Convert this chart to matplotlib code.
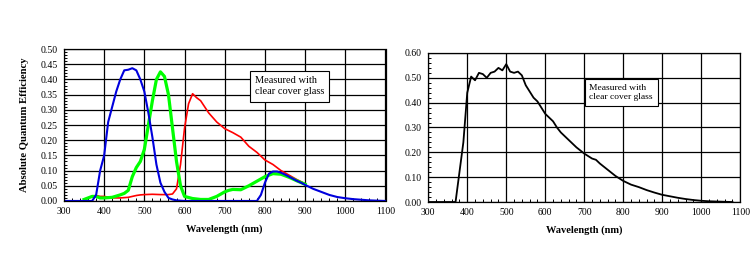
import matplotlib.pyplot as plt
from matplotlib.ticker import MultipleLocator

plt.rcParams['font.family'] = ['Liberation Serif', 'DejaVu Serif']

# colour sensor (left)
red_wl = [350, 370, 380, 390, 400, 420, 440, 460, 480, 490, 500, 520, 540, 560, 570, 580,
          590, 600, 610, 620, 630, 640, 650, 660, 680, 700, 720, 740, 760, 780, 800, 820,
          840, 860, 880, 900]
red_qe = [0.005, 0.015, 0.018, 0.015, 0.015, 0.010, 0.010, 0.012, 0.018, 0.020, 0.021, 0.022,
          0.021, 0.021, 0.023, 0.040, 0.120, 0.240, 0.320, 0.353, 0.340, 0.330, 0.310, 0.290,
          0.260, 0.238, 0.225, 0.210, 0.180, 0.160, 0.135, 0.120, 0.100, 0.085, 0.070, 0.057]

green_wl = [350, 360, 370, 380, 390, 400, 420, 440, 450, 460, 470, 480, 490, 500, 510, 520,
            530, 540, 550, 560, 570, 580, 590, 600, 620, 640, 660, 680, 700, 710, 720, 740,
            760, 780, 800, 820, 840, 860, 880, 900]
green_qe = [0.005, 0.010, 0.015, 0.015, 0.010, 0.010, 0.012, 0.020, 0.025, 0.035, 0.080, 0.110,
            0.130, 0.170, 0.250, 0.330, 0.400, 0.425, 0.410, 0.350, 0.240, 0.130, 0.050, 0.015,
            0.008, 0.005, 0.005, 0.015, 0.030, 0.035, 0.038, 0.037, 0.050, 0.065, 0.080, 0.090,
            0.088, 0.078, 0.066, 0.055]

blue_wl = [300, 370, 380, 390, 400, 410, 420, 430, 440, 450, 460, 470, 480, 490, 500, 510,
           520, 530, 540, 550, 560, 570, 580, 600, 780, 790, 800, 810, 820, 830, 840, 850,
           860, 870, 880, 890, 900, 920, 940, 960, 980, 1000, 1020, 1040, 1060, 1080, 1100]
blue_qe = [0.0, 0.0, 0.020, 0.100, 0.150, 0.260, 0.310, 0.360, 0.400, 0.430, 0.432, 0.437,
           0.430, 0.400, 0.360, 0.290, 0.210, 0.120, 0.060, 0.030, 0.010, 0.005, 0.002, 0.0,
           0.0, 0.020, 0.060, 0.090, 0.097, 0.097, 0.093, 0.087, 0.080, 0.073, 0.066, 0.060,
           0.053, 0.040, 0.030, 0.020, 0.013, 0.009, 0.006, 0.004, 0.002, 0.001, 0.0]

# monochrome sensor (right)
mono_wl = [300, 370, 380, 390, 400, 410, 420, 430, 440, 450, 460, 470, 480, 490, 500, 510,
           520, 530, 540, 550, 560, 570, 580, 590, 600, 610, 620, 630, 640, 650, 660, 680,
           700, 710, 720, 730, 740, 760, 780, 800, 820, 840, 860, 880, 900, 920, 940, 960,
           980, 1000, 1020, 1040, 1060, 1080]
mono_qe = [0.0, 0.0, 0.120, 0.240, 0.440, 0.505, 0.490, 0.520, 0.515, 0.500, 0.520, 0.525,
           0.540, 0.530, 0.555, 0.525, 0.520, 0.525, 0.510, 0.470, 0.445, 0.420, 0.405, 0.380,
           0.355, 0.340, 0.325, 0.300, 0.280, 0.265, 0.250, 0.220, 0.195, 0.185, 0.175, 0.170,
           0.155, 0.130, 0.105, 0.085, 0.070, 0.060, 0.048, 0.038, 0.029, 0.023, 0.017, 0.012,
           0.008, 0.005, 0.003, 0.002, 0.001, 0.0]

fig = plt.figure(figsize=(7.5, 2.61), dpi=100)
ax1 = fig.add_axes([0.0853, 0.230, 0.4287, 0.582])
ax2 = fig.add_axes([0.571, 0.226, 0.416, 0.571])


def style(ax, ymax, ymajor, yminor):
    ax.set_xlim(300, 1100)
    ax.set_ylim(0, ymax)
    ax.xaxis.set_major_locator(MultipleLocator(100))
    ax.xaxis.set_minor_locator(MultipleLocator(20))
    ax.yaxis.set_major_locator(MultipleLocator(ymajor))
    ax.yaxis.set_minor_locator(MultipleLocator(yminor))
    ax.grid(True, which='major', color='black', linewidth=0.9)
    ax.set_axisbelow(True)
    ax.tick_params(which='both', direction='in', labelsize=7, length=2.5, width=0.7,
                   pad=4.5)
    ax.tick_params(which='major', length=0)
    ax.yaxis.set_major_formatter(plt.FormatStrFormatter('%.2f'))
    for s in ax.spines.values():
        s.set_linewidth(0.9)
    ax.set_xlabel('Wavelength (nm)', fontsize=7.5, fontweight='bold', labelpad=6)


style(ax1, 0.5, 0.05, 0.01)
style(ax2, 0.6, 0.1, 0.02)

ax1.plot(red_wl, red_qe, color='#ff0000', linewidth=1.2)
ax1.plot(green_wl, green_qe, color='#00ff00', linewidth=2.3)
ax1.plot(blue_wl, blue_qe, color='#0000dd', linewidth=1.5)
ax1.set_ylabel('Absolute Quantum Efficiency', fontsize=7.7, fontweight='bold', labelpad=8)

ax2.plot(mono_wl, mono_qe, color='black', linewidth=1.3)

box = dict(boxstyle='square,pad=0.5', facecolor='white', edgecolor='black', linewidth=0.8)
ax1.text(775, 0.377, 'Measured with\nclear cover glass', fontsize=7.5, va='center',
         ha='left', bbox=box, linespacing=1.3)
ax2.text(713, 0.441, 'Measured with\nclear cover glass', fontsize=6.8, va='center',
         ha='left', bbox=box, linespacing=1.3)

fig.savefig('out.png', dpi=100)
